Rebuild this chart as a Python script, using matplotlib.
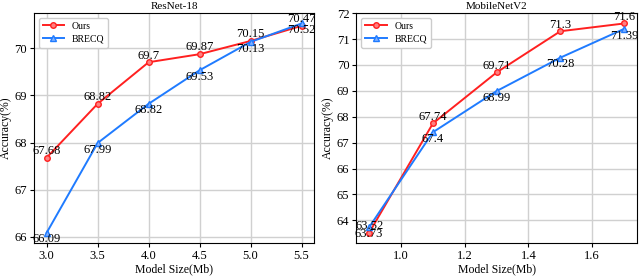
import matplotlib.pyplot as plt

plt.rcParams['font.family'] = 'Liberation Serif'

# ResNet-18
res_x = [3.0, 3.5, 4.0, 4.5, 5.0, 5.5]
res_ours = [67.68, 68.82, 69.7, 69.87, 70.15, 70.47]
res_brecq = [66.09, 67.99, 68.82, 69.53, 70.13, 70.52]

# MobileNetV2
mb_x = [0.9, 1.1, 1.3, 1.5, 1.7]
mb_ours = [63.52, 67.74, 69.71, 71.3, 71.6]
mb_brecq = [63.73, 67.4, 68.99, 70.28, 71.39]

red = '#ff2020'
blue = '#1f7bff'

fig, axes = plt.subplots(1, 2, figsize=(6.4, 2.77), dpi=100)


def draw(ax, x, ours, brecq, title):
    ax.plot(x, ours, color=red, marker='o', markersize=4, lw=1.4,
            markerfacecolor='#ff8080', label='Ours', zorder=3)
    ax.plot(x, brecq, color=blue, marker='^', markersize=4, lw=1.4,
            markerfacecolor='#80b0ff', label='BRECQ', zorder=3)
    for xi, yi in zip(x, ours):
        ax.annotate(f'{yi:g}', (xi, yi), xytext=(0, 0.5), textcoords='offset points',
                    ha='center', va='bottom', fontsize=9)
    for xi, yi in zip(x, brecq):
        ax.annotate(f'{yi:g}', (xi, yi), xytext=(0, -0.5), textcoords='offset points',
                    ha='center', va='top', fontsize=9)
    ax.set_title(title, fontsize=8, pad=3)
    ax.set_xlabel('Model Size(Mb)', fontsize=8.5, labelpad=1)
    ax.set_ylabel('Accuracy(%)', fontsize=8.5, labelpad=2)
    ax.tick_params(labelsize=9, length=3, pad=2)
    ax.grid(True, color='#d0d0d0', lw=1)
    ax.set_axisbelow(True)
    ax.legend(loc='upper left', fontsize=7, handlelength=2.2, framealpha=1,
              edgecolor='#cccccc', borderpad=0.4, labelspacing=0.4)


draw(axes[0], res_x, res_ours, res_brecq, 'ResNet-18')
draw(axes[1], mb_x, mb_ours, mb_brecq, 'MobileNetV2')
axes[1].set_xticks([1.0, 1.2, 1.4, 1.6])

plt.subplots_adjust(left=0.053, right=0.995, top=0.953, bottom=0.122, wspace=0.15)
plt.savefig('out.png')
